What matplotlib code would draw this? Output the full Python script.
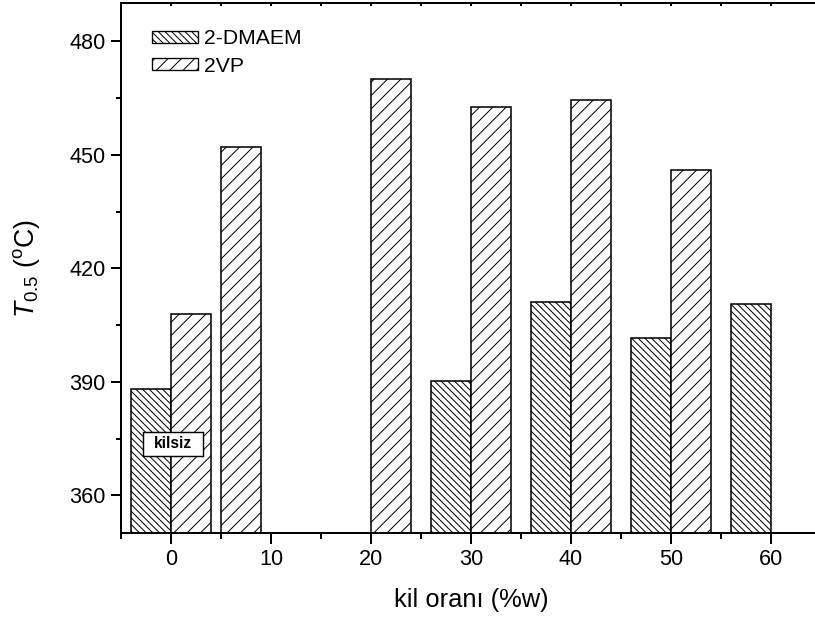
import matplotlib
matplotlib.use("Agg")
import matplotlib.pyplot as plt
from matplotlib.ticker import MultipleLocator
from matplotlib.patches import Rectangle

# clay content (%w) and T0.5 values for each polymer
x_dmaem = [0, 30, 40, 50, 60]
t_dmaem = [388.0, 390.3, 411.0, 401.7, 410.7]
x_2vp = [0, 5, 20, 30, 40, 50]
t_2vp = [408.0, 452.0, 470.0, 462.7, 464.4, 446.0]

labels = ["2-DMAEM", "2VP"]
x_ticks = [0, 10, 20, 30, 40, 50, 60]
y_ticks = [360, 390, 420, 450, 480]

plt.rcParams["font.family"] = ["Liberation Sans", "DejaVu Sans"]
plt.rcParams["mathtext.fontset"] = "custom"
plt.rcParams["mathtext.rm"] = "Liberation Sans"
plt.rcParams["mathtext.it"] = "Liberation Sans:italic"
plt.rcParams["hatch.linewidth"] = 0.9
plt.rcParams["hatch.color"] = "black"

DPI = 80
fig = plt.figure(figsize=(815 / DPI, 623 / DPI), dpi=DPI)
ax = fig.add_axes([121 / 815, 89.7 / 623, 700 / 815, 530 / 623])

bar_w = 4
ax.bar(x_dmaem, t_dmaem, width=-bar_w, align="edge", facecolor="white",
       edgecolor="black", linewidth=1.4, hatch="\\\\\\\\", label=labels[0], zorder=2)
ax.bar(x_2vp, t_2vp, width=bar_w, align="edge", facecolor="white",
       edgecolor="black", linewidth=1.4, hatch="//", label=labels[1], zorder=2)

ax.set_xlim(-5, 65)
ax.set_ylim(350, 490)

ax.set_xticks(x_ticks)
ax.set_yticks(y_ticks)
ax.xaxis.set_minor_locator(MultipleLocator(5))
ax.yaxis.set_minor_locator(MultipleLocator(15))

for side in ["left", "bottom", "top", "right"]:
    ax.spines[side].set_linewidth(1.8)

ax.tick_params(axis="x", which="major", direction="out", length=10, width=1.8,
               labelsize=19.5, pad=4.0)
ax.tick_params(axis="x", which="minor", direction="out", length=5.4, width=1.8)
ax.tick_params(axis="y", which="major", direction="out", length=9, width=1.8,
               labelsize=19.5, pad=5.0)
ax.tick_params(axis="y", which="minor", direction="out", length=4.5, width=1.8)

# small inward ticks along the top frame
ax_top = ax.twiny()
ax_top.set_xlim(ax.get_xlim())
ax_top.set_xticks(x_ticks)
ax_top.xaxis.set_minor_locator(MultipleLocator(5))
ax_top.tick_params(axis="x", which="both", direction="in", length=2.5, width=1.8,
                   labeltop=False)
for side in ["left", "bottom", "top", "right"]:
    ax_top.spines[side].set_visible(False)

ax.set_xlabel("kil oranı (%w)", fontsize=23)
ax.xaxis.set_label_coords(0.5, (533.3 - 600) / 530)
ax.xaxis.label.set_va("center")

ax.set_ylabel(r"$T_{0.5}$ ($^{\mathrm{o}}$C)", fontsize=24)
ax.yaxis.set_label_coords((27 - 121) / 700, 0.5)
ax.yaxis.label.set_va("center")

leg = ax.legend(loc="upper left", bbox_to_anchor=(0.0447, 0.951), frameon=False,
                fontsize=19, handlelength=2.15, handleheight=0.5,
                handletextpad=0.3, labelspacing=0.4, borderpad=0,
                borderaxespad=0)
for h in leg.legend_handles:
    h.set_linewidth(1.2)

# "kilsiz" tag on the clay-free group
ax.add_patch(Rectangle((-2.8, 370.4), 6.0, 6.4, facecolor="white",
                       edgecolor="black", linewidth=1.3, zorder=4))
ax.text(0.2, 373.6, "kilsiz", fontsize=14, fontweight="bold",
        ha="center", va="center", zorder=5)

fig.savefig("out.png", dpi=DPI)
